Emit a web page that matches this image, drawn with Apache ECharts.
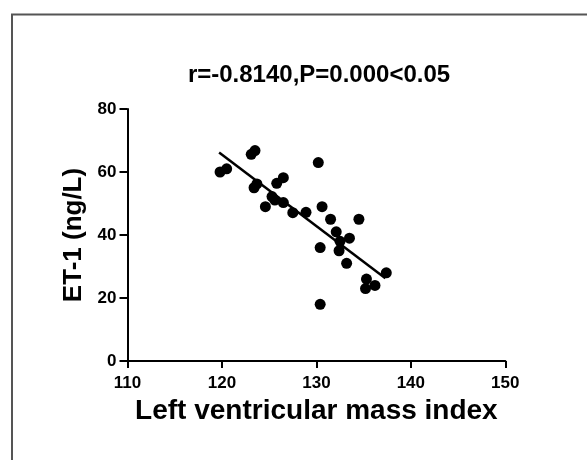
<!DOCTYPE html>
<html>
<head>
<meta charset="utf-8">
<script src="https://cdn.jsdelivr.net/npm/echarts@6/dist/echarts.min.js"></script>
<style>
  html, body { margin: 0; padding: 0; background: #fff; }
  #chart { width: 587px; height: 460px; }
</style>
</head>
<body>
<div id="chart"></div>
<script>
// Data
var massIndex = [119.8, 120.5, 123.1, 123.5, 123.4, 123.7, 125.8, 126.5, 124.6, 125.3, 125.6, 126.5, 127.5, 128.9, 130.2, 130.6, 131.5, 134.5, 132.1, 132.5, 133.5, 132.4, 130.4, 133.2, 137.4, 135.3, 136.2, 135.2, 130.4];
var et1 =       [60,    61,    65.6,  66.8,  55,    56.2,  56.4,  58.2,  49,    52.2,  51.1,  50.3,  47.1,  47.2,  63,    49,    45,    45,    41,    38,    39,    35,    36,    31,    28,    26,    24,    23,    18];
var fitX = [119.7, 137.3];
var fitY = [66.2, 26.3];
var titleText = 'r=-0.8140,P=0.000<0.05';
var xName = 'Left ventricular mass index';
var yName = 'ET-1 (ng/L)';

var pts = massIndex.map(function (x, i) { return [x, et1[i]]; });
var fitPts = fitX.map(function (x, i) { return [x, fitY[i]]; });

var FONT = "'Liberation Sans', Arial, sans-serif";
var chart = echarts.init(document.getElementById('chart'), null, { renderer: 'canvas' });
chart.setOption({
  animation: false,
  backgroundColor: '#ffffff',
  graphic: [{
    type: 'rect',
    shape: { x: 12, y: 14.5, width: 700, height: 600 },
    style: { fill: 'none', stroke: '#555', lineWidth: 2 },
    silent: true
  }],
  title: {
    text: titleText,
    left: 314,
    top: 58,
    textAlign: 'center',
    textStyle: { fontFamily: FONT, fontSize: 24, fontWeight: 'bold', color: '#000' }
  },
  grid: { left: 127.5, right: 81.7, top: 109, bottom: 99, containLabel: false },
  xAxis: {
    type: 'value',
    min: 110, max: 150, interval: 10,
    name: xName,
    nameLocation: 'middle',
    nameGap: 33,
    nameTextStyle: { fontFamily: FONT, fontSize: 28, fontWeight: 'bold', color: '#000' },
    axisLine: { show: true, onZero: false, lineStyle: { color: '#000', width: 2 } },
    axisTick: { show: true, length: 7, lineStyle: { color: '#000', width: 2 } },
    axisLabel: { fontFamily: FONT, fontSize: 17, fontWeight: 'bold', color: '#000', margin: 14 },
    splitLine: { show: false }
  },
  yAxis: {
    type: 'value',
    min: 0, max: 80, interval: 20,
    name: yName,
    nameLocation: 'middle',
    nameGap: 40,
    nameTextStyle: { fontFamily: FONT, fontSize: 26, fontWeight: 'bold', color: '#000' },
    axisLine: { show: true, onZero: false, lineStyle: { color: '#000', width: 2 } },
    axisTick: { show: true, length: 8, lineStyle: { color: '#000', width: 2 } },
    axisLabel: { fontFamily: FONT, fontSize: 17, fontWeight: 'bold', color: '#000', margin: 11 },
    splitLine: { show: false }
  },
  series: [
    {
      type: 'line',
      data: fitPts,
      showSymbol: false,
      symbol: 'none',
      lineStyle: { color: '#000', width: 2.5 },
      z: 2
    },
    {
      type: 'scatter',
      data: pts,
      symbol: 'circle',
      symbolSize: 11,
      itemStyle: { color: '#000', opacity: 1 },
      z: 3
    }
  ]
});
</script>
</body>
</html>
